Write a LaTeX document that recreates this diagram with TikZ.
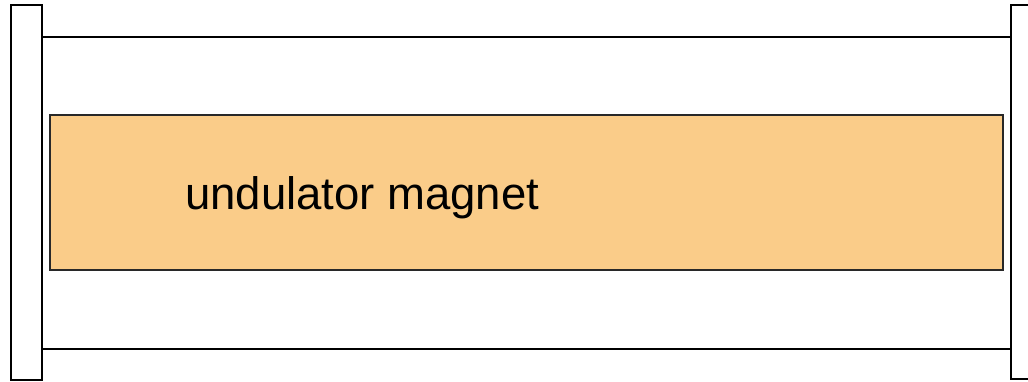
\documentclass[tikz,border=0pt]{standalone}
\usepackage{fontspec}
\setmainfont{Liberation Sans}
\usetikzlibrary{positioning,calc}
\definecolor{magnetorange}{RGB}{250,204,137}
\definecolor{edgegray}{RGB}{40,40,40}

\begin{document}
\begin{tikzpicture}[x=1pt,y=-1pt,
    bar/.style={draw, line width=2pt, fill=white, inner sep=0pt},
    rail/.style={line width=2pt},
    magnetbox/.style={draw=edgegray, line width=1.5pt, fill=magnetorange, inner sep=0pt}]
    \useasboundingbox (0,0) rectangle (1028,381);
    % end plates
    \node[bar, minimum width=31pt, minimum height=375pt] (lplate) at (26.5,192.5) {};
    \node[bar, minimum width=31pt, minimum height=374pt] (rplate) at (1026.5,192) {};
    % vacuum chamber walls
    \coordinate (top) at (0,37);
    \coordinate (bot) at (0,349);
    \draw[rail] (lplate.east |- top) -- (rplate.west |- top);
    \draw[rail] (lplate.east |- bot) -- (rplate.west |- bot);
    % magnet
    \node[magnetbox, minimum width=953pt, minimum height=155pt] (magnet) at (526.5,192.5) {};
    \node[anchor=base west, inner sep=0pt, font=\fontsize{45.5}{52}\selectfont] (label) at (185,209) {undulator magnet};
\end{tikzpicture}
\end{document}
